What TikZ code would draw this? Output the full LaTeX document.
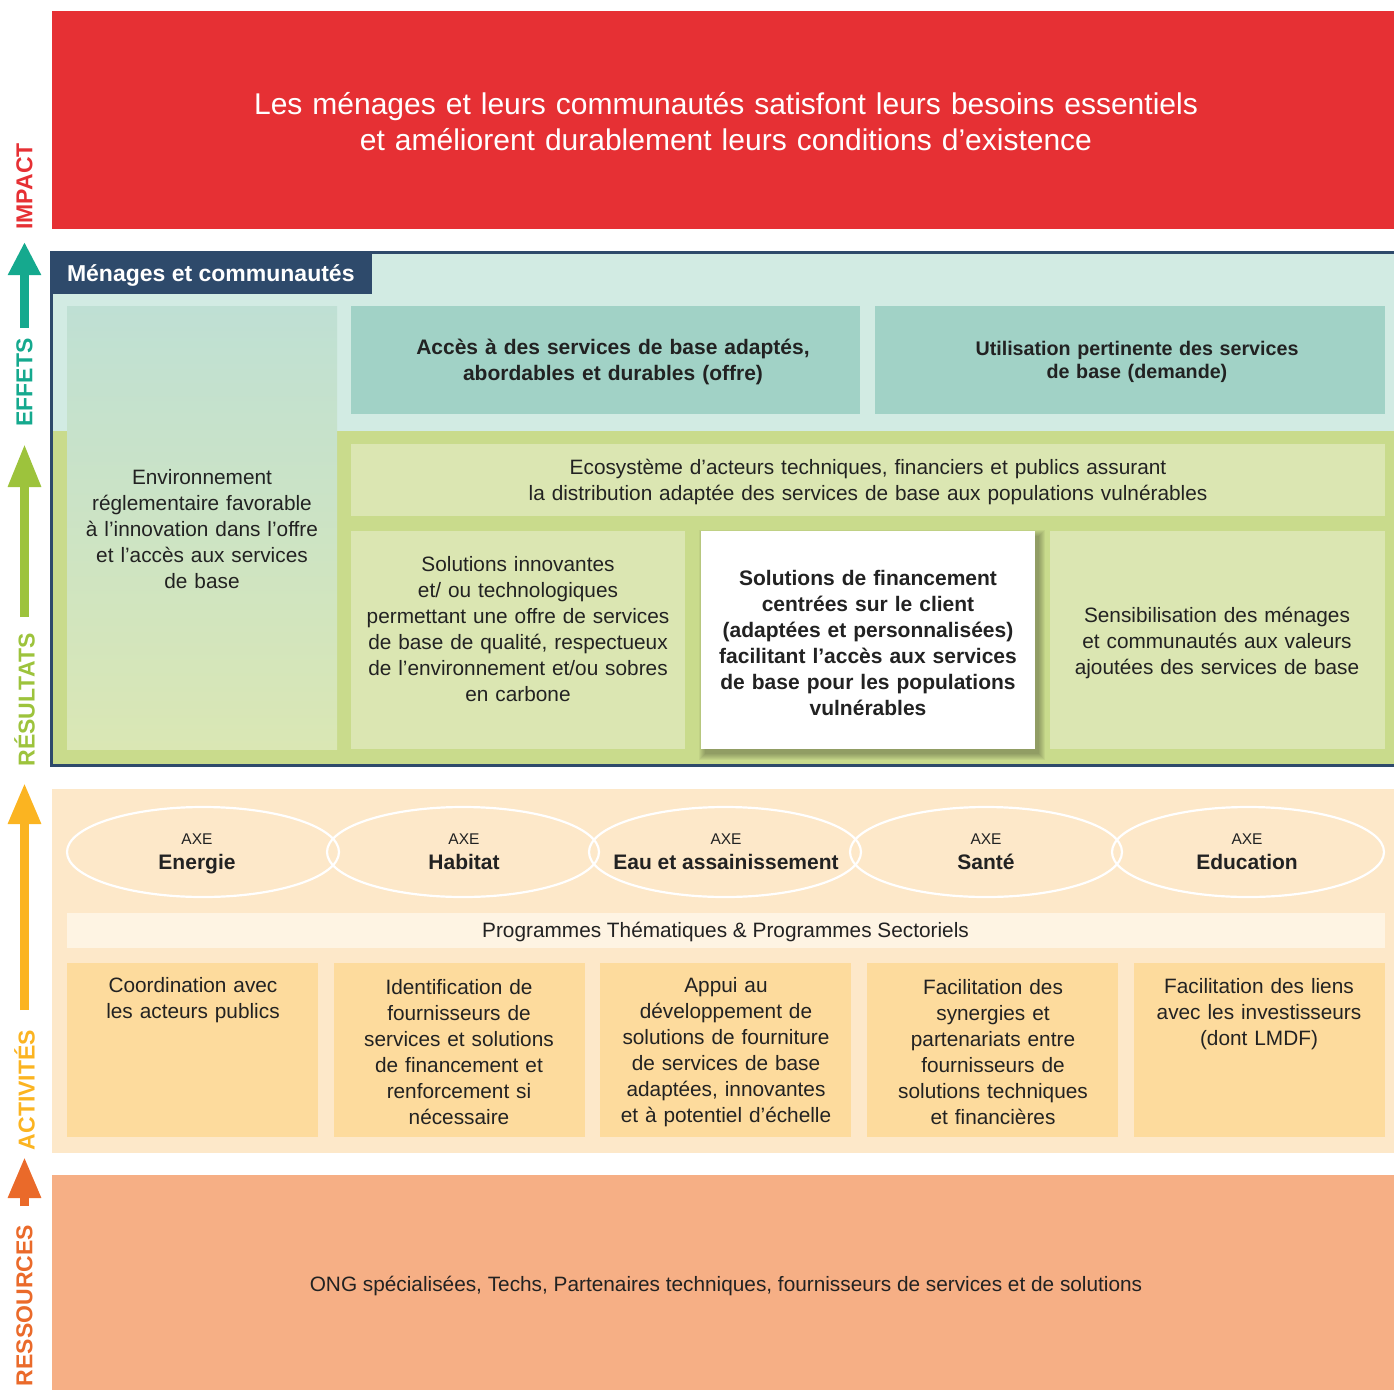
\documentclass[tikz,border=0pt]{standalone}
\usepackage{fontspec}
\setmainfont{Liberation Sans}
\usetikzlibrary{arrows.meta,shapes.geometric}
\definecolor{impactred}{HTML}{E63034}
\definecolor{navy}{HTML}{2E4A6B}
\definecolor{tealbg}{HTML}{D2EBE3}
\definecolor{tealbox}{HTML}{A1D2C6}
\definecolor{greenbg}{HTML}{C9DB8C}
\definecolor{greenbox}{HTML}{DBE6B2}
\definecolor{colA}{HTML}{BFE0D4}
\definecolor{colB}{HTML}{DAE7B4}
\definecolor{actbg}{HTML}{FDE8C9}
\definecolor{progbar}{HTML}{FEF4E3}
\definecolor{actbox}{HTML}{FDDB9D}
\definecolor{resbg}{HTML}{F6AF85}
\definecolor{labteal}{HTML}{15A98E}
\definecolor{labgreen}{HTML}{9DC33C}
\definecolor{labyellow}{HTML}{FBB421}
\definecolor{laborange}{HTML}{EA6A2A}
\definecolor{txt}{HTML}{222222}
\tikzset{
  every node/.style={inner sep=0pt, outer sep=0pt},
  body/.style={font=\fontsize{20.8}{26}\selectfont, text=txt, align=center},
  bodybold/.style={font=\bfseries\fontsize{21}{26}\selectfont, text=txt, align=center},
  sidelabel/.style={rotate=90, font=\bfseries\fontsize{23}{23}\selectfont},
  uparrow/.style={line width=9pt, -{Triangle[width=31pt,length=#1]}},
  axeellipse/.style={ellipse, draw=white, line width=2.2pt, minimum width=272pt, minimum height=90pt},
}
\begin{document}
\begin{tikzpicture}[x=1pt,y=-1pt]
\useasboundingbox (0,0) rectangle (1394,1389);
\clip (0,0) rectangle (1394,1389);

% IMPACT
\node[fill=impactred, minimum width=1348pt, minimum height=218pt] (impact) at (726,120) {};
\node[text width=1300pt, align=center, text=white, font=\fontsize{30}{36}\selectfont] (impacttxt) at (726,121.5)
  {Les ménages et leurs communautés satisfont leurs besoins essentiels\\et améliorent durablement leurs conditions d’existence};

% Frame (effets + resultats)
\fill[tealbg] (51,252) rectangle (1410,431);
\fill[greenbg] (51,431) rectangle (1410,766);
\draw[navy, line width=3pt] (51.5,252.5) rectangle (1410,765.5);
\node[fill=navy, minimum width=321pt, minimum height=42pt, anchor=north west] (tab) at (51,252) {};
\node[anchor=west, text=white, font=\bfseries\fontsize{23}{25}\selectfont] (tabtxt) at (67,275) {Ménages et communautés};

% left column
\shade[top color=colA, bottom color=colB] (67,306) rectangle (337,749);
\node[body, text width=262pt] (env) at (202,529.5)
  {Environnement\\réglementaire favorable\\à l’innovation dans l’offre\\et l’accès aux services\\de base};

% effets boxes
\node[fill=tealbox, minimum width=509pt, minimum height=108pt] (acces) at (605.5,360) {};
\node[bodybold, text width=500pt] (accestxt) at (613,362)
  {Accès à des services de base adaptés,\\abordables et durables (offre)};
\node[fill=tealbox, minimum width=510pt, minimum height=108pt] (util) at (1130,360) {};
\node[text=txt, align=center, font=\bfseries\fontsize{19.7}{23}\selectfont, text width=500pt] (utiltxt) at (1137,362)
  {Utilisation pertinente des services\\de base (demande)};

% resultats boxes
\node[fill=greenbox, minimum width=1034pt, minimum height=72pt] (eco) at (868,480) {};
\node[body, text width=1000pt] (ecotxt) at (868,482)
  {Ecosystème d’acteurs techniques, financiers et publics assurant\\la distribution adaptée des services de base aux populations vulnérables};
\node[fill=greenbox, minimum width=334pt, minimum height=218pt] (innov) at (518,640) {};
\node[body, text width=330pt] (innovtxt) at (518,629.5)
  {Solutions innovantes\\et/ ou technologiques\\permettant une offre de services\\de base de qualité, respectueux\\de l’environnement et/ou sobres\\en carbone};
% shadow for white box
\foreach \i in {1,...,7}{
  \fill[black, opacity=0.045] (701+5-\i,531+6-\i) rectangle (1035+3+\i,749+4+\i);
}
\node[fill=white, minimum width=334pt, minimum height=218pt] (finance) at (868,640) {};
\node[bodybold, text width=330pt] (financetxt) at (868,642.5)
  {Solutions de financement\\centrées sur le client\\(adaptées et personnalisées)\\facilitant l’accès aux services\\de base pour les populations\\vulnérables};
\node[fill=greenbox, minimum width=335pt, minimum height=218pt] (sensib) at (1217.5,640) {};
\node[body, text width=330pt] (sensibtxt) at (1217,642.5)
  {Sensibilisation des ménages\\et communautés aux valeurs\\ajoutées des services de base};

% ACTIVITES
\fill[actbg] (52,789) rectangle (1410,1153);
\foreach \cx/\tx/\nm/\lab in {203/197/ell1/Energie, 463/464/ell2/Habitat, 725/726/ell3/Eau et assainissement, 986/986/ell4/Santé, 1248/1247/ell5/Education}{
  \node[axeellipse] (\nm) at (\cx,852) {};
  \node[text=txt, font=\fontsize{15.5}{18}\selectfont, anchor=base] (\nm axe) at (\tx,844.5) {AXE};
  \node[text=txt, font=\bfseries\fontsize{21}{24}\selectfont, anchor=base] (\nm lab) at (\tx,869) {\lab};
}
\node[fill=progbar, minimum width=1318pt, minimum height=35pt] (prog) at (726,930.5) {};
\node[body] (progtxt) at (725.5,932) {Programmes Thématiques \& Programmes Sectoriels};

\node[fill=actbox, minimum width=251pt, minimum height=174pt] (a1) at (192.5,1050) {};
\node[fill=actbox, minimum width=251pt, minimum height=174pt] (a2) at (459.5,1050) {};
\node[fill=actbox, minimum width=251pt, minimum height=174pt] (a3) at (725.5,1050) {};
\node[fill=actbox, minimum width=251pt, minimum height=174pt] (a4) at (992.5,1050) {};
\node[fill=actbox, minimum width=251pt, minimum height=174pt] (a5) at (1259.5,1050) {};
\node[body, text width=245pt] (a1txt) at (193,1000.5) {Coordination avec\\les acteurs publics};
\node[body, text width=245pt] (a2txt) at (459,1052) {Identification de\\fournisseurs de\\services et solutions\\de financement et\\renforcement si\\nécessaire};
\node[body, text width=245pt] (a3txt) at (726,1052) {Appui au\\développement de\\solutions de fourniture\\de services de base\\adaptées, innovantes\\et à potentiel d’échelle};
\node[body, text width=245pt] (a4txt) at (993,1052) {Facilitation des\\synergies et\\partenariats entre\\fournisseurs de\\solutions techniques\\et financières};
\node[body, text width=245pt] (a5txt) at (1259,1014) {Facilitation des liens\\avec les investisseurs\\(dont LMDF)};

% RESSOURCES
\fill[resbg] (52,1175) rectangle (1410,1400);
\node[body] (restxt) at (726,1286) {ONG spécialisées, Techs, Partenaires techniques, fournisseurs de services et de solutions};

% side labels
\node[sidelabel, text=impactred] (limpact) at (24.5,186.5) {IMPACT};
\node[sidelabel, text=labteal] (leffets) at (24.5,382.5) {EFFETS};
\node[sidelabel, text=labgreen] (lresult) at (24.5,700) {RÉSULTATS};
\node[sidelabel, text=labyellow] (lactiv) at (24.5,1090) {ACTIVITÉS};
\node[sidelabel, text=laborange, anchor=east] (lress) at (24.5,1225) {RESSOURCES};

% side arrows
\coordinate (ta1) at (24.5,328); \coordinate (hd1) at (24.5,242);
\coordinate (ta2) at (24.5,617); \coordinate (hd2) at (24.5,444);
\coordinate (ta3) at (24.5,1010); \coordinate (hd3) at (24.5,783);
\coordinate (ta4) at (24.5,1206); \coordinate (hd4) at (24.5,1157);
\draw[uparrow=33pt, labteal] (ta1) -- (hd1);
\draw[uparrow=43pt, labgreen] (ta2) -- (hd2);
\draw[uparrow=41pt, labyellow] (ta3) -- (hd3);
\draw[uparrow=41pt, laborange] (ta4) -- (hd4);
\end{tikzpicture}
\end{document}
